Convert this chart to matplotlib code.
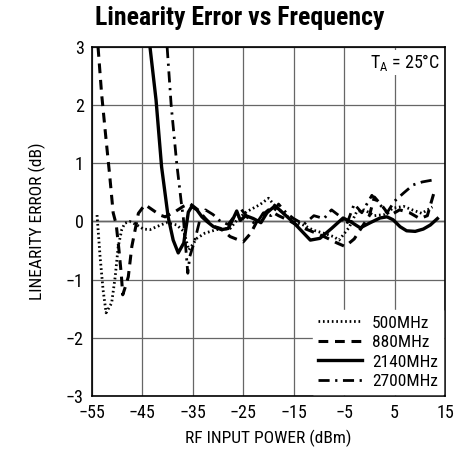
import numpy as np
import matplotlib
matplotlib.use("Agg")
import matplotlib.pyplot as plt
from matplotlib import font_manager

# values
x_500 = [-54.0, -53.4, -52.8, -52.2, -51.1, -50.4, -49.8, -49.1, -48.5, -47.5, -46.1, -44.8, -43.5, -42.2,
         -40.2, -38.2, -36.8, -35.8, -34.2, -32.6, -30.3, -27.6, -26.0, -24.3, -21.7, -20.0, -18.5, -16.5,
         -14.7, -13.1, -11.1, -9.1, -7.1, -6.0, -4.0, -2.5, -1.0, 1.0, 3.0, 4.7, 6.8, 8.5, 10.4, 12.5]
y_500 = [0.11, -0.6, -1.18, -1.57, -1.40, -0.95, -0.43, -0.14, -0.03, 0.0, -0.06, -0.13, -0.14, -0.09,
         -0.02, -0.06, -0.17, -0.49, -0.29, -0.2, -0.14, -0.12, 0.05, 0.17, 0.29, 0.4, 0.25, 0.1,
         0.0, -0.06, -0.15, -0.2, -0.26, -0.32, -0.1, 0.17, 0.2, 0.1, 0.12, 0.23, 0.26, 0.2, 0.14, 0.25]

x_880 = [-53.8, -53.1, -52.2, -51.5, -50.8, -50.2, -49.7, -49.2, -48.9, -48.3, -47.8, -47.1, -45.8, -44.5,
         -43.5, -41.5, -40.5, -38.5, -36.9, -35.6, -34.0, -32.5, -31.0, -29.5, -27.6, -25.0, -23.5, -22.0,
         -20.0, -18.0, -16.0, -14.0, -12.0, -10.0, -8.0, -6.4, -4.8, -3.0, -1.5, 0.0, 1.0, 2.7, 4.0,
         6.0, 8.0, 10.0, 11.5, 12.5, 13.0]
y_880 = [3.0, 2.2, 1.4, 0.8, 0.15, -0.05, -0.45, -0.9, -1.26, -1.1, -0.95, -0.43, 0.14, 0.29,
         0.23, 0.11, 0.08, 0.17, 0.26, 0.31, 0.2, 0.05, -0.08, -0.12, -0.26, -0.35, -0.2, 0.05,
         0.2, 0.1, 0.02, -0.08, -0.15, -0.22, -0.3, -0.37, -0.43, -0.3, -0.1, 0.1, 0.42, 0.25, 0.1,
         0.2, 0.15, 0.05, 0.1, 0.4, 0.55]

x_2140 = [-43.5, -42.3, -41.2, -39.9, -38.9, -37.9, -36.8, -35.9, -35.2, -34.2, -33.2, -32.2, -30.9, -29.3,
          -28.0, -27.0, -26.3, -25.6, -24.5, -23.0, -21.5, -20.3, -18.7, -15.0, -11.7, -9.8, -7.5, -5.2,
          -3.8, -1.8, 0.2, 2.1, 3.5, 4.7, 6.1, 7.4, 9.1, 10.7, 12.1, 13.5]
y_2140 = [3.0, 2.09, 0.94, 0.08, -0.32, -0.54, -0.37, 0.16, 0.26, 0.2, 0.08, 0.0, -0.09, -0.14,
          -0.12, 0.05, 0.18, 0.02, 0.1, 0.05, -0.02, 0.15, 0.27, -0.02, -0.32, -0.29, -0.12, 0.06,
          0.0, -0.11, -0.02, 0.06, 0.08, 0.03, -0.09, -0.16, -0.17, -0.13, -0.06, 0.05]

x_2700 = [-40.1, -39.3, -38.2, -37.2, -36.9, -36.0, -35.6, -34.6, -33.6, -32.5, -31.0, -29.5, -28.0, -26.5,
          -25.5, -24.0, -22.5, -21.0, -19.5, -18.0, -16.5, -15.0, -13.0, -11.0, -9.0, -7.5, -6.0, -4.5,
          -3.0, -1.5, 0.5, 2.0, 3.5, 5.0, 6.8, 8.7, 10.5, 12.4, 13.2]
y_2700 = [3.0, 2.0, 1.0, 0.26, 0.08, -0.89, -0.6, -0.32, 0.03, 0.2, 0.12, 0.0, -0.05, 0.12,
          0.22, 0.05, -0.05, 0.15, 0.1, 0.3, 0.15, 0.05, -0.05, 0.1, 0.05, 0.2, 0.1, -0.05,
          0.3, 0.15, 0.45, 0.3, 0.15, 0.35, 0.49, 0.63, 0.68, 0.71, 0.75]

labels = ['500MHz', '880MHz', '2140MHz', '2700MHz']
x_ticks = [-55, -45, -35, -25, -15, -5, 5, 15]
y_ticks = [-3, -2, -1, 0, 1, 2, 3]

# pick a narrow font if one is around
names = set(f.name for f in font_manager.fontManager.ttflist)
font = 'DejaVu Sans'
for cand in ['Liberation Sans Narrow', 'Roboto Condensed', 'DejaVu Sans Condensed', 'Liberation Sans']:
    if cand in names:
        font = cand
        break
plt.rcParams['font.family'] = [font, 'DejaVu Sans']
plt.rcParams['mathtext.fontset'] = 'custom'
plt.rcParams['mathtext.rm'] = font

fig = plt.figure(figsize=(4.57, 4.58), dpi=100)
ax = fig.add_axes([0.2013, 0.1354, 0.7724, 0.762])

ax.plot(x_500, y_500, color='black', lw=2.0, dashes=(0.6, 1.0), label=labels[0])
ax.plot(x_880, y_880, color='black', lw=2.2, dashes=(3.2, 2.2), label=labels[1])
ax.plot(x_2140, y_2140, color='black', lw=2.4, label=labels[2])
ax.plot(x_2700, y_2700, color='black', lw=2.0, dashes=(4.0, 2.0, 0.8, 2.0), label=labels[3])

ax.set_xlim(-55, 15)
ax.set_ylim(-3, 3)
ax.set_xticks(x_ticks)
ax.set_yticks(y_ticks)
ax.set_xticklabels([str(t).replace('-', '\u2212') for t in x_ticks])
ax.set_yticklabels([str(t).replace('-', '\u2212') for t in y_ticks])
ax.tick_params(length=0, labelsize=13, pad=6)
ax.grid(True, color='#666666', lw=0.9)
ax.axhline(0, color='black', lw=1.0, zorder=1.5)
for s in ax.spines.values():
    s.set_linewidth(1.2)

ax.set_xlabel('RF INPUT POWER (dBm)', fontsize=12.5, labelpad=5)
ax.set_ylabel('LINEARITY ERROR (dB)', fontsize=12.5, labelpad=14)
fig.text(240 / 457, 1 - 18 / 458, 'Linearity Error vs Frequency', fontsize=18.5, fontweight='bold',
         ha='center', va='center')

ax.text(0.985, 0.955, 'T$_\\mathregular{A}$ = 25°C', transform=ax.transAxes, ha='right', va='center',
        fontsize=13, bbox=dict(facecolor='white', edgecolor='none', pad=1.5), zorder=5)

leg = ax.legend(loc='lower right', fontsize=12.5, handlelength=2.5, handletextpad=0.6, labelspacing=0.25,
                borderaxespad=0.1, frameon=True, fancybox=False, borderpad=0.3)
leg.get_frame().set_facecolor('white')
leg.get_frame().set_edgecolor('white')
leg.get_frame().set_alpha(1)

fig.savefig('out.png', dpi=100)
